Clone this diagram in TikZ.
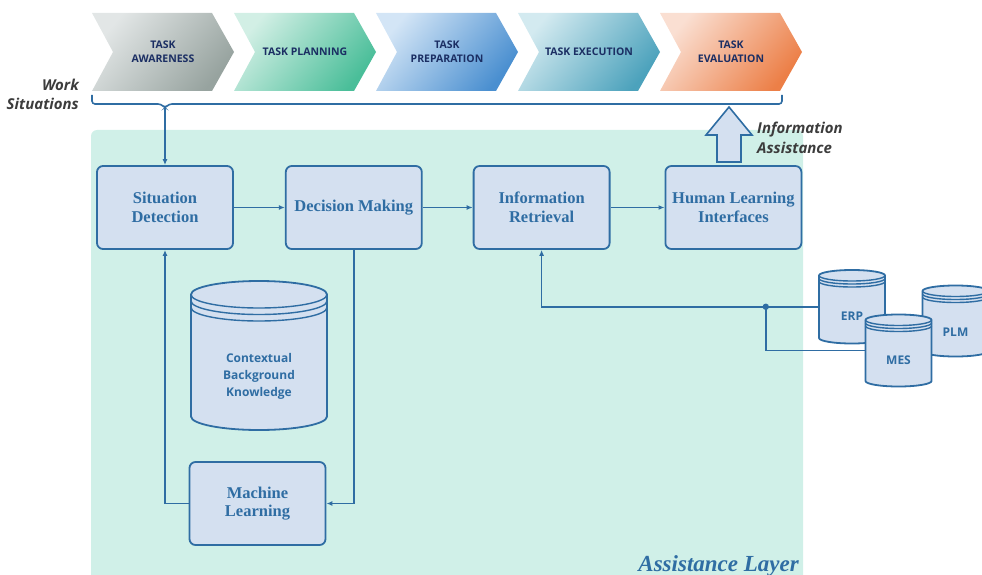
\documentclass[tikz,border=0pt]{standalone}
\usepackage{fontspec}
\setmainfont{Liberation Serif}
\newfontfamily\opensans{Open Sans}
\usetikzlibrary{arrows.meta, positioning}
\definecolor{laybg}{HTML}{D0F0E8}
\definecolor{boxfill}{HTML}{D4E0F0}
\definecolor{boxline}{HTML}{2F6DA3}
\definecolor{chevtext}{HTML}{1B2E63}
\definecolor{sidetext}{HTML}{3C3C3C}
\definecolor{chev1a}{HTML}{E2E6E6}
\definecolor{chev1b}{HTML}{97A39F}
\definecolor{chev2a}{HTML}{D2EFE5}
\definecolor{chev2b}{HTML}{4ABE99}
\definecolor{chev3a}{HTML}{D3E5F6}
\definecolor{chev3b}{HTML}{4A8FD0}
\definecolor{chev4a}{HTML}{D3EAF0}
\definecolor{chev4b}{HTML}{4CA2BC}
\definecolor{chev5a}{HTML}{FADFD2}
\definecolor{chev5b}{HTML}{EC7F47}
\tikzset{
  procbox/.style = {font=\bfseries\fontsize{16.5}{18.5}\selectfont, text=boxline,
                    align=center, rounded corners=6pt, draw=boxline,
                    fill=boxfill, line width=1.8pt,
                    minimum width=136pt, minimum height=83pt, inner sep=2pt},
  chevtxt/.style = {font=\opensans\bfseries\fontsize{10.5}{14}\selectfont,
                    text=chevtext, align=center, inner sep=0pt},
  dbbody/.style  = {draw=boxline, fill=boxfill, line width=1.8pt},
  dbline/.style  = {draw=boxline, line width=1.4pt},
  dbtxt/.style   = {font=\opensans\bfseries\fontsize{12}{17}\selectfont,
                    text=boxline, align=center, inner sep=0pt},
  flow/.style    = {draw=boxline, line width=1.6pt,
                    -{Latex[length=6pt, width=5pt]}},
  bracket/.style = {draw=boxline, line width=1.6pt, rounded corners=3pt},
  sidelbl/.style = {font=\opensans\bfseries\itshape\fontsize{15}{19.5}\selectfont,
                    text=sidetext, inner sep=0pt},
  layerlbl/.style= {font=\bfseries\itshape\fontsize{23}{26}\selectfont,
                    text=boxline, inner sep=0pt},
}
% name, x, top y, bottom y, rx, ry, ring gap
\newcommand{\dbcyl}[7]{%
  \path[dbbody] (#2-#5,-#3) -- (#2-#5,-#4)
    arc[start angle=180, end angle=360, x radius=#5, y radius=#6]
    -- (#2+#5,-#3)
    arc[start angle=0, end angle=180, x radius=#5, y radius=#6] -- cycle;
  \foreach \g in {0,#7,2*#7}
    \draw[dbline] (#2-#5,-#3-\g)
      arc[start angle=180, end angle=360, x radius=#5, y radius=#6];
  \node[inner sep=0pt, minimum width=2*#5, minimum height={#4-#3}]
    (#1) at (#2,{-(#3+#4)/2}) {};
}

\begin{document}
\begin{tikzpicture}[x=1pt, y=1pt]
  \useasboundingbox (0,0) rectangle (982,-575);
  \fill[laybg, rounded corners=6pt] (91,-130) rectangle (803,-600);

  % work situations
  \foreach \i/\txt in {1/{TASK\\AWARENESS}, 2/{TASK PLANNING},
                       3/{TASK\\PREPARATION}, 4/{TASK EXECUTION},
                       5/{TASK\\EVALUATION}} {
    \pgfmathsetmacro{\x}{92+142*(\i-1)}
    \path[left color=chev\i a, right color=chev\i b, shading angle=50]
      (\x,-13) -- ++(120,0) -- ++(22,-39) -- ++(-22,-39) -- ++(-120,0)
      -- ++(21,39) -- cycle;
    \node[chevtxt] (task\i) at (\x+71,-52) {\txt};
  }
  \node[sidelbl, align=right, anchor=east] (wslbl) at (79,-94.5)
       {Work\\Situations};
  \draw[bracket] (92,-95) |- (161,-104) -- (165,-108) -- (169,-104) -| (782,-95);
  \coordinate (brk) at (165,-108);

  % assistance layer
  \node[procbox] (sd) at (165,-207.5) {Situation\\Detection};
  \node[procbox, right=51pt of sd] (dm) {Decision Making};
  \node[procbox, right=50pt of dm] (ir) {Information\\Retrieval};
  \node[procbox, right=54pt of ir] (hli) {Human Learning\\Interfaces};
  \node[procbox] (ml) at (257.5,-503.5) {Machine\\Learning};

  \dbcyl{cbk}{259}{294.5}{416.5}{68}{13.5}{6.5}
  \node[dbtxt] (cbktxt) at (259,-376) {Contextual\\Background\\Knowledge};
  \dbcyl{erp}{852}{275.5}{338}{33}{5.5}{3}
  \node[dbtxt] (erptxt) at (852,-316) {ERP};
  \dbcyl{plm}{955.5}{291}{351}{33}{5.5}{3}
  \node[dbtxt] (plmtxt) at (955.5,-332) {PLM};
  \dbcyl{mes}{898.5}{320}{381}{33}{5.5}{3}
  \node[dbtxt] (mestxt) at (898.5,-360) {MES};

  \draw[flow] (brk) -- (sd.north);
  \draw[flow] (sd) -- (dm);
  \draw[flow] (dm) -- (ir);
  \draw[flow] (ir) -- (hli);
  \draw[flow] (dm.south) |- (ml.east);
  \draw[flow] (ml.west) -| (sd.south);
  \draw[flow] (erp.west) -| (ir.south);
  \coordinate (jn) at ([xshift=-53pt]erp.west);
  \draw[flow, -] (mes.west) -| (jn);
  \fill[boxline] (jn) circle (3.2);

  \draw[dbbody, line width=1.6pt] (717,-162) -- (717,-135) -- (706,-135)
    -- (729,-107) -- (752,-135) -- (741,-135) -- (741,-162) -- cycle;
  \node[sidelbl, align=left, anchor=west] (ialbl) at (757,-138)
       {Information\\Assistance};
  \node[layerlbl, anchor=base east] (laylbl) at (799,-571) {Assistance Layer};
\end{tikzpicture}
\end{document}
